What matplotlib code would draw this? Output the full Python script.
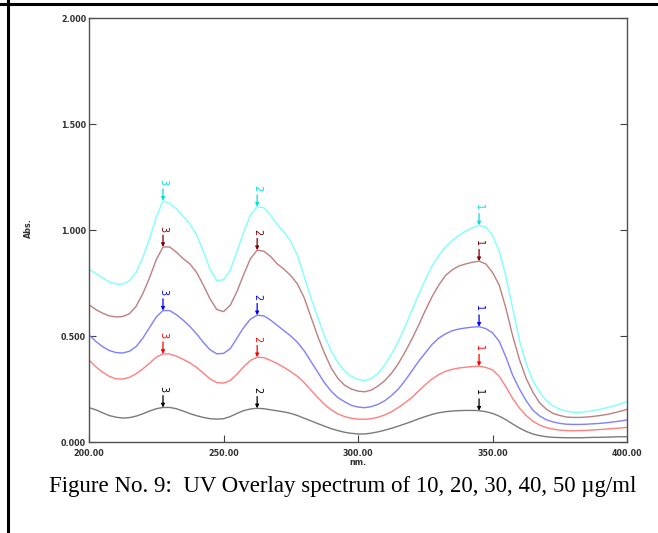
import matplotlib
matplotlib.use('Agg')
import matplotlib.pyplot as plt
from matplotlib.lines import Line2D
import numpy as np

# Wavelength grid (nm), 2.5 nm steps from 200 to 400
wavelength = np.arange(200, 400.1, 2.5)

# Absorbance (10, 20, 30, 40, 50 ug/ml)
abs_10 = [0.162, 0.152, 0.138, 0.125, 0.117, 0.113, 0.115, 0.122, 0.133, 0.146, 0.157,
          0.163, 0.163, 0.157, 0.146, 0.134, 0.124, 0.116, 0.110, 0.108, 0.110, 0.120,
          0.135, 0.148, 0.156, 0.159, 0.157, 0.152, 0.147, 0.142, 0.135, 0.125, 0.112,
          0.100, 0.087, 0.075, 0.063, 0.054, 0.046, 0.041, 0.038, 0.038, 0.042, 0.048,
          0.056, 0.065, 0.075, 0.086, 0.097, 0.109, 0.120, 0.130, 0.138, 0.143, 0.146,
          0.148, 0.149, 0.149, 0.148, 0.143, 0.135, 0.122, 0.105, 0.085, 0.066, 0.050,
          0.038, 0.030, 0.025, 0.022, 0.021, 0.020, 0.020, 0.020, 0.021, 0.022, 0.022,
          0.023, 0.024, 0.025, 0.025]
abs_20 = [0.387, 0.355, 0.330, 0.310, 0.298, 0.297, 0.305, 0.322, 0.345, 0.372, 0.400,
          0.416, 0.415, 0.405, 0.390, 0.373, 0.352, 0.325, 0.298, 0.280, 0.278, 0.290,
          0.320, 0.355, 0.385, 0.400, 0.398, 0.385, 0.370, 0.352, 0.332, 0.310, 0.280,
          0.245, 0.210, 0.178, 0.152, 0.133, 0.120, 0.112, 0.108, 0.107, 0.110, 0.117,
          0.128, 0.143, 0.163, 0.185, 0.210, 0.240, 0.270, 0.297, 0.318, 0.333, 0.343,
          0.349, 0.353, 0.356, 0.358, 0.352, 0.340, 0.310, 0.260, 0.205, 0.160, 0.125,
          0.098, 0.080, 0.068, 0.061, 0.056, 0.054, 0.053, 0.054, 0.055, 0.057, 0.059,
          0.061, 0.064, 0.066, 0.069]
abs_30 = [0.505, 0.475, 0.450, 0.432, 0.422, 0.420, 0.428, 0.450, 0.490, 0.540, 0.590,
          0.620, 0.620, 0.600, 0.575, 0.545, 0.510, 0.470, 0.435, 0.416, 0.418, 0.440,
          0.490, 0.540, 0.580, 0.598, 0.595, 0.575, 0.550, 0.525, 0.500, 0.470, 0.430,
          0.380, 0.330, 0.280, 0.240, 0.210, 0.190, 0.173, 0.165, 0.162, 0.167, 0.178,
          0.195, 0.220, 0.250, 0.290, 0.335, 0.380, 0.420, 0.460, 0.490, 0.510, 0.525,
          0.533, 0.538, 0.542, 0.544, 0.535, 0.515, 0.475, 0.400, 0.315, 0.250, 0.195,
          0.150, 0.123, 0.105, 0.095, 0.088, 0.084, 0.083, 0.083, 0.084, 0.086, 0.088,
          0.091, 0.095, 0.099, 0.104]
abs_40 = [0.648, 0.625, 0.608, 0.595, 0.590, 0.592, 0.605, 0.640, 0.700, 0.775, 0.860,
          0.920, 0.920, 0.895, 0.865, 0.840, 0.800, 0.740, 0.675, 0.625, 0.615, 0.645,
          0.710, 0.790, 0.865, 0.905, 0.900, 0.875, 0.840, 0.815, 0.785, 0.745, 0.680,
          0.590, 0.500, 0.420, 0.350, 0.300, 0.268, 0.250, 0.240, 0.237, 0.245, 0.265,
          0.290, 0.325, 0.370, 0.425, 0.485, 0.550, 0.620, 0.685, 0.740, 0.785, 0.812,
          0.830, 0.840, 0.848, 0.853, 0.840, 0.800, 0.740, 0.630, 0.500, 0.390, 0.300,
          0.235, 0.185, 0.155, 0.135, 0.125, 0.118, 0.116, 0.116, 0.118, 0.121, 0.125,
          0.130, 0.137, 0.145, 0.154]
abs_50 = [0.815, 0.795, 0.775, 0.755, 0.745, 0.745, 0.760, 0.800, 0.870, 0.960, 1.060,
          1.138, 1.125, 1.100, 1.065, 1.030, 0.975, 0.900, 0.815, 0.762, 0.765, 0.810,
          0.900, 0.990, 1.070, 1.110, 1.105, 1.070, 1.025, 0.990, 0.945, 0.880, 0.780,
          0.680, 0.590, 0.500, 0.430, 0.375, 0.335, 0.310, 0.295, 0.290, 0.300, 0.325,
          0.365, 0.415, 0.475, 0.545, 0.620, 0.695, 0.765, 0.830, 0.880, 0.920, 0.950,
          0.975, 0.995, 1.010, 1.022, 1.015, 0.975, 0.900, 0.780, 0.630, 0.480, 0.370,
          0.290, 0.235, 0.195, 0.170, 0.155, 0.145, 0.140, 0.140, 0.143, 0.148, 0.155,
          0.162, 0.170, 0.180, 0.190]

series = [abs_10, abs_20, abs_30, abs_40, abs_50]
line_colors = ['#7a7a7a', '#ff7f7f', '#7f7fff', '#bf7f7f', '#7fffff']
mark_colors = ['#000000', '#ff0000', '#0000ff', '#800000', '#00e0e0']

# Picked peaks, numbered as the instrument does
peak_nm = [227.5, 262.5, 345]
peak_labels = ['3', '2', '1']

fig = plt.figure(figsize=(6.58, 5.33), dpi=100)
ax = fig.add_axes([0.1353, 0.1707, 0.8176, 0.7955])

for y, lc, mc in zip(series, line_colors, mark_colors):
    ax.plot(wavelength, y, color=lc, linewidth=1.0)
    for nm, lab in zip(peak_nm, peak_labels):
        yv = y[int(np.argmin(np.abs(wavelength - nm)))]
        ax.annotate('', xy=(nm, yv), xytext=(0, 8.5), textcoords='offset points',
                    arrowprops=dict(arrowstyle='-|>', color=mc, lw=0.9,
                                    mutation_scale=5, shrinkA=0, shrinkB=0))
        ax.annotate(lab, xy=(nm, yv), xytext=(0, 11), textcoords='offset points',
                    ha='center', va='bottom', rotation=-90, fontsize=7,
                    color=mc, family='DejaVu Sans')

ax.set_xlim(200, 400)
ax.set_ylim(0, 2)
ax.set_xticks([200, 250, 300, 350, 400])
ax.set_xticklabels(['200.00', '250.00', '300.00', '350.00', '400.00'])
ax.set_yticks([0, 0.5, 1.0, 1.5, 2.0])
ax.set_yticklabels(['0.000', '0.500', '1.000', '1.500', '2.000'])
ax.tick_params(direction='in', length=5, width=0.8, color='#404040',
               labelsize=5.8, labelcolor='#303030', right=True)
ax.tick_params(axis='x', pad=5)
ax.tick_params(axis='y', pad=2)
for lab in ax.get_xticklabels() + ax.get_yticklabels():
    lab.set_fontweight('bold')
for s in ax.spines.values():
    s.set_color('#505050')
    s.set_linewidth(1.0)

ax.set_xlabel('nm.', fontsize=5.8, labelpad=0, color='#303030', fontweight='bold')
fig.text(28 / 658, 1 - 228 / 533, 'Abs.', rotation=90, fontsize=5.8, ha='center',
         va='center', color='#303030', fontweight='bold')

# page frame lines from the document
fig.add_artist(Line2D([0, 1], [1 - 4 / 533, 1 - 4 / 533], color='black', lw=2.2))
fig.add_artist(Line2D([8 / 658, 8 / 658], [0, 1], color='black', lw=2.2))

fig.text(343 / 658, 1 - 492 / 533,
         'Figure No. 9:  UV Overlay spectrum of 10, 20, 30, 40, 50 \u00b5g/ml',
         ha='center', va='baseline', fontsize=16.5, family='Liberation Serif')

fig.savefig('out.png', dpi=100)
